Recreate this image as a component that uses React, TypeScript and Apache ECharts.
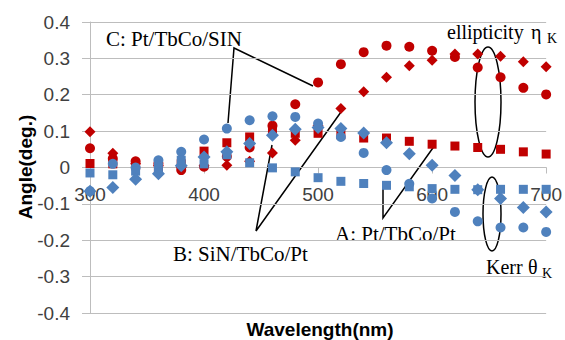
import React, { useEffect, useRef } from "react";
import * as echarts from "echarts";

const wavelengths = [300, 320, 340, 360, 380, 400, 420, 440, 460, 480, 500, 520, 540, 560, 580, 600, 620, 640, 660, 680, 700];

// ellipticity (red)
const etaC = [0.053, 0.025, 0.017, 0.011, -0.007, 0.002, 0.03, 0.055, 0.115, 0.174, 0.234, 0.284, 0.317, 0.335, 0.332, 0.321, 0.304, 0.275, 0.248, 0.219, 0.201];
const etaA = [0.011, 0.01, 0.005, 0.0, 0.01, 0.045, 0.068, 0.084, 0.105, 0.094, 0.094, 0.09, 0.081, 0.081, 0.072, 0.064, 0.059, 0.055, 0.05, 0.043, 0.037];
const etaB = [0.098, 0.039, 0.01, 0.005, 0.0, 0.005, 0.006, 0.017, 0.04, 0.075, 0.115, 0.162, 0.208, 0.248, 0.28, 0.295, 0.312, 0.312, 0.306, 0.291, 0.277];
// Kerr rotation (blue)
const thetaC = [-0.065, 0.01, 0.0, 0.02, 0.043, 0.077, 0.107, 0.13, 0.141, 0.139, 0.121, 0.084, 0.04, -0.007, -0.045, -0.085, -0.122, -0.148, -0.165, -0.165, -0.177];
const thetaA = [-0.015, -0.02, -0.01, 0.0, 0.02, 0.01, 0.035, 0.013, -0.001, -0.012, -0.028, -0.038, -0.044, -0.049, -0.053, -0.058, -0.06, -0.061, -0.06, -0.06, -0.06];
const thetaB = [-0.065, -0.055, -0.032, -0.017, 0.005, 0.029, 0.043, 0.066, 0.089, 0.105, 0.11, 0.107, 0.095, 0.068, 0.038, 0.006, -0.022, -0.061, -0.085, -0.11, -0.122];

const xTicks = { min: 300, max: 700, interval: 100 };
const yTicks = { min: -0.4, max: 0.4, interval: 0.1 };

const RED = "#c00000";
const BLUE = "#4f81bd";
const GRID = "#bdbdbd";
const SERIF = "'Liberation Serif', 'Times New Roman', serif";
const SANS = "'Liberation Sans', Arial, sans-serif";

const pair = (ys: number[]) => wavelengths.map((x, i) => [x, ys[i]]);

export default function App() {
  const ref = useRef<HTMLDivElement>(null);
  useEffect(() => {
    document.body.style.margin = "0";
    if (!ref.current) return;
    const chart = echarts.init(ref.current, undefined, { renderer: "svg" });
    const mk = (name: string, data: number[], color: string, symbol: string, size: number) => ({
      name,
      type: "scatter",
      data: pair(data),
      symbol,
      symbolSize: size,
      itemStyle: { color, opacity: 1 },
    });
    const lineStyle = { stroke: "#000", lineWidth: 1.5, fill: null };
    const txt = (text: string, x: number, y: number, size: number) => ({
      type: "text",
      x,
      y,
      style: { text, fill: "#000", font: `${size}px ${SERIF}`, align: "left", verticalAlign: "middle" },
    });
    chart.setOption({
      animation: false,
      backgroundColor: "#fff",
      grid: { left: 90, right: 16, top: 22, bottom: 27, containLabel: false },
      xAxis: {
        type: "value",
        ...xTicks,
        position: "bottom",
        offset: -145.5,
        axisLine: { show: true, onZero: false, lineStyle: { color: GRID, width: 1 } },
        axisTick: { show: true, length: 6, lineStyle: { color: GRID } },
        axisLabel: { fontSize: 19, color: "#404040", fontFamily: SANS, margin: 17 },
        splitLine: { show: false },
      },
      yAxis: {
        type: "value",
        ...yTicks,
        axisLine: { show: true, onZero: false, lineStyle: { color: GRID, width: 1 } },
        axisTick: { show: true, length: 8, lineStyle: { color: GRID } },
        axisLabel: {
          fontSize: 19,
          color: "#404040",
          fontFamily: SANS,
          margin: 20,
          formatter: (v: number) => {
            const r = Math.round(v * 10) / 10;
            return r === 0 ? "0" : r.toFixed(1);
          },
        },
        splitLine: { show: true, lineStyle: { color: GRID, width: 1 } },
      },
      series: [
        mk("C: Pt/TbCo/SIN ellipticity", etaC, RED, "circle", 10),
        mk("A: Pt/TbCo/Pt ellipticity", etaA, RED, "rect", 9),
        mk("B: SiN/TbCo/Pt ellipticity", etaB, RED, "diamond", 11),
        mk("C: Pt/TbCo/SIN Kerr", thetaC, BLUE, "circle", 10),
        mk("A: Pt/TbCo/Pt Kerr", thetaA, BLUE, "rect", 9),
        mk("B: SiN/TbCo/Pt Kerr", thetaB, BLUE, "diamond", 13),
      ],
      graphic: [
        {
          type: "text",
          x: 25,
          y: 167,
          rotation: Math.PI / 2,
          style: { text: "Angle(deg.)", fill: "#000", font: `bold 19px ${SANS}`, align: "center", verticalAlign: "middle" },
        },
        {
          type: "text",
          x: 320,
          y: 329,
          style: { text: "Wavelength(nm)", fill: "#000", font: `bold 19px ${SANS}`, align: "center", verticalAlign: "middle" },
        },
        txt("C: Pt/TbCo/SIN", 106, 39, 21),
        txt("B: SiN/TbCo/Pt", 173, 254, 21),
        txt("A: Pt/TbCo/Pt", 335, 234, 21),
        txt("ellipticity", 447, 32, 20),
        txt("η", 531, 32, 20),
        txt("K", 547, 38, 14),
        txt("Kerr", 486, 267, 20),
        txt("θ", 528, 267, 20),
        txt("K", 542, 273, 14),
        { type: "polyline", shape: { points: [[228, 123], [234, 48], [313, 86]] }, style: lineStyle },
        { type: "polyline", shape: { points: [[272, 145], [256, 231], [341, 112]] }, style: lineStyle },
        { type: "polyline", shape: { points: [[383, 189], [383, 218], [435, 145]] }, style: lineStyle },
        { type: "ellipse", shape: { cx: 488, cy: 102, rx: 13, ry: 55 }, style: { stroke: "#000", lineWidth: 1.5, fill: null } },
        { type: "ellipse", shape: { cx: 492, cy: 214, rx: 9, ry: 37 }, style: { stroke: "#000", lineWidth: 1.5, fill: null } },
      ],
    });
    return () => chart.dispose();
  }, []);
  return <div ref={ref} style={{ width: 565, height: 340 }} />;
}
